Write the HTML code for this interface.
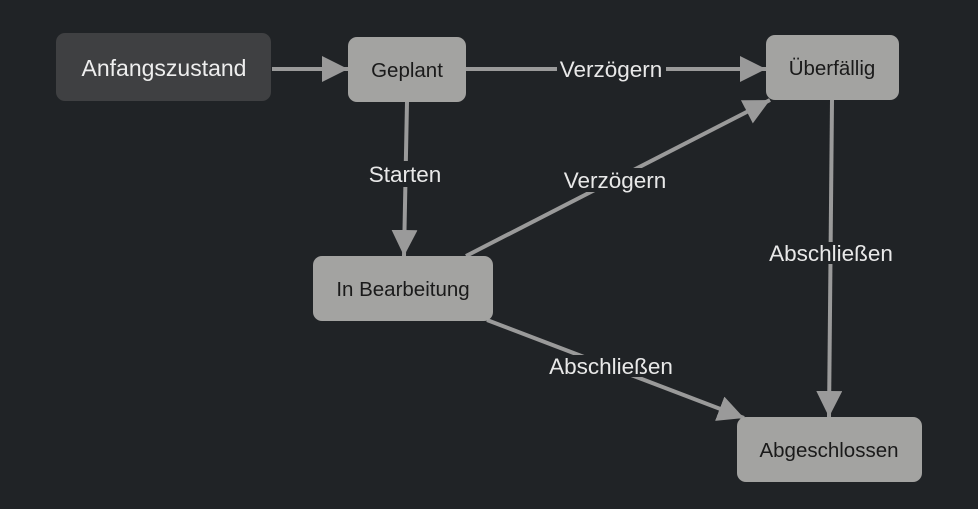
<!DOCTYPE html>
<html><head><meta charset="utf-8"><style>
html,body{margin:0;padding:0;background:#202326;}
svg{display:block;font-family:"Liberation Sans",Arial,sans-serif;}
</style></head><body>
<svg width="978" height="509" viewBox="0 0 978 509" xmlns="http://www.w3.org/2000/svg">
<defs>
<marker id="a" markerWidth="26" markerHeight="26" refX="26" refY="13" orient="auto" markerUnits="userSpaceOnUse">
<path d="M0,0 L26,13 L0,26 z" fill="#9a9a9a"/>
</marker>
</defs>
<rect width="978" height="509" fill="#202326"/>
<g stroke="#9a9a9a" stroke-width="4" fill="none">
<line x1="272" y1="69" x2="348" y2="69" marker-end="url(#a)"/>
<line x1="466" y1="69" x2="766" y2="69" marker-end="url(#a)"/>
<line x1="407" y1="102" x2="404" y2="256" marker-end="url(#a)"/>
<line x1="466" y1="256" x2="770" y2="100" marker-end="url(#a)"/>
<line x1="487" y1="320" x2="744" y2="418" marker-end="url(#a)"/>
<line x1="832" y1="100" x2="829" y2="417" marker-end="url(#a)"/>
</g>
<g fill="#202326">
<rect x="557" y="56" width="109" height="26"/>
<rect x="366" y="161" width="78" height="26"/>
<rect x="561" y="168" width="108" height="24"/>
<rect x="546" y="355" width="130" height="22"/>
<rect x="766" y="242" width="130" height="22"/>
</g>
<g fill="#e8e8e8" font-size="22.5" text-anchor="middle">
<text x="611" y="77">Verzögern</text>
<text x="405" y="182">Starten</text>
<text x="615" y="188">Verzögern</text>
<text x="611" y="374">Abschließen</text>
<text x="831" y="261">Abschließen</text>
</g>
<rect x="56" y="33" width="215" height="68" rx="9" fill="#3f4042"/>
<text x="164" y="76" fill="#eeeeee" font-size="23" text-anchor="middle">Anfangszustand</text>
<g fill="#a3a3a1">
<rect x="348" y="37" width="118" height="65" rx="9"/>
<rect x="766" y="35" width="133" height="65" rx="9"/>
<rect x="313" y="256" width="180" height="65" rx="9"/>
<rect x="737" y="417" width="185" height="65" rx="9"/>
</g>
<g fill="#1a1a1a" font-size="20.5" text-anchor="middle">
<text x="407" y="77">Geplant</text>
<text x="832" y="75">Überfällig</text>
<text x="403" y="296">In Bearbeitung</text>
<text x="829" y="457">Abgeschlossen</text>
</g>
</svg>
</body></html>
